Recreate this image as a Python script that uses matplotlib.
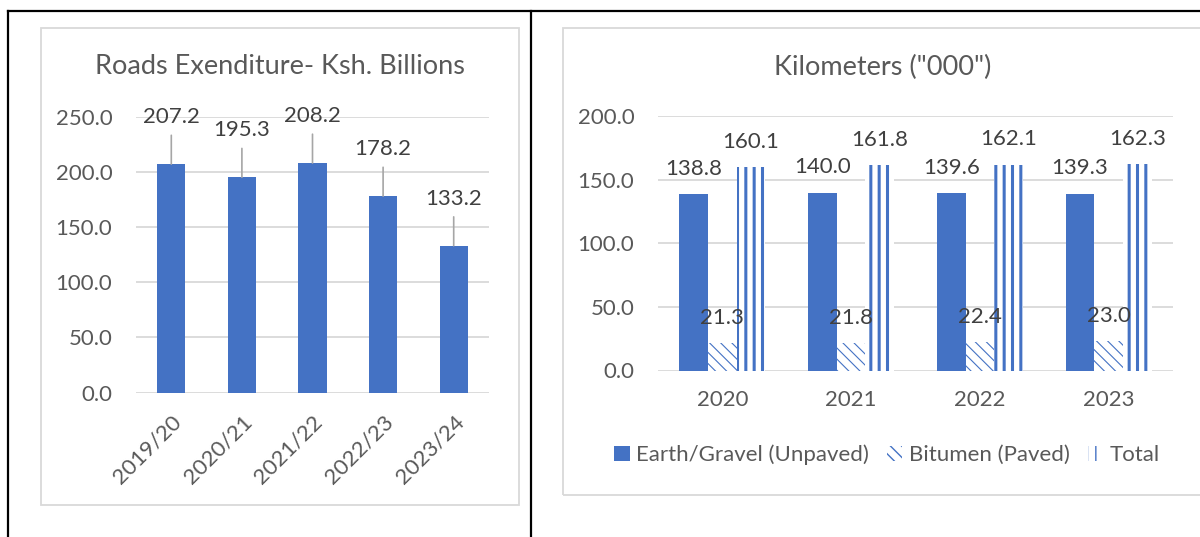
import matplotlib
matplotlib.use('Agg')
import matplotlib.pyplot as plt
from matplotlib.patches import Rectangle
from matplotlib.lines import Line2D
import numpy as np

plt.rcParams['font.family'] = ['Lato', 'DejaVu Sans']

# Road spending by financial year (Ksh. billions)
fiscal_years = ['2019/20', '2020/21', '2021/22', '2022/23', '2023/24']
spend = [207.2, 195.3, 208.2, 178.2, 133.2]

# Road network length ('000 km)
years = ['2020', '2021', '2022', '2023']
unpaved = [138.8, 140.0, 139.6, 139.3]
paved = [21.3, 21.8, 22.4, 23.0]
total = [160.1, 161.8, 162.1, 162.3]

BLUE = '#4472C4'
GREY_TXT = '#595959'
LABEL_TXT = '#404040'
GRID = '#D9D9D9'
FS = 16

W, H = 1200, 537
fig = plt.figure(figsize=(W / 100, H / 100), dpi=100)


def fx(px):
    return px / W


def fy(py):
    return 1 - py / H


# table frame around the two charts
for (x0, y0, x1, y1) in [(7.5, 11, W, 11), (7.5, 11, 7.5, H), (530.5, 11, 530.5, H)]:
    fig.add_artist(Line2D([fx(x0), fx(x1)], [fy(y0), fy(y1)],
                          transform=fig.transFigure, color='black', lw=1.6))

# chart area borders
fig.add_artist(Rectangle((fx(41), fy(505)), fx(478), 477.5 / H, transform=fig.transFigure,
                         fill=False, edgecolor=GRID, lw=1.3))
fig.add_artist(Rectangle((fx(563), fy(495)), fx(660), 467.5 / H, transform=fig.transFigure,
                         fill=False, edgecolor=GRID, lw=1.3))


def style_axes(ax):
    for s in ax.spines.values():
        s.set_visible(False)
    ax.grid(axis='y', color=GRID, lw=1.3)
    ax.set_axisbelow(True)
    ax.tick_params(length=0, labelsize=FS, labelcolor=GREY_TXT)
    ax.yaxis.set_major_formatter(plt.FuncFormatter(lambda v, p: f'{v:.1f}'))


# ---- left: expenditure ----
ax1 = fig.add_axes([fx(136), fy(392.6), fx(353), 275.6 / H])
style_axes(ax1)
x1 = np.arange(len(fiscal_years))
ax1.bar(x1, spend, width=0.4, color=BLUE)
ax1.set_xlim(-0.5, len(fiscal_years) - 0.5)
ax1.set_ylim(0, 250)
ax1.set_yticks(np.arange(0, 251, 50))
ax1.tick_params(axis='y', pad=17)
ax1.set_xticks(x1)
ax1.set_xticklabels(fiscal_years, rotation=45, ha='right', va='top', rotation_mode='anchor')
ax1.tick_params(axis='x', pad=14)
for xi, v in zip(x1, spend):
    ax1.annotate(f'{v:.1f}', xy=(xi, v), xytext=(0, 34), textcoords='offset points',
                 ha='center', va='center', fontsize=FS, color=LABEL_TXT,
                 arrowprops=dict(arrowstyle='-', color='#A6A6A6', lw=1.2,
                                 shrinkA=4, shrinkB=0))
fig.text(fx(280), fy(66), 'Roads Exenditure- Ksh. Billions', ha='center', va='center',
         fontsize=19.5, color=GREY_TXT)

# ---- right: kilometres ----
ax2 = fig.add_axes([fx(658), fy(370.5), fx(515), 254.1 / H])
style_axes(ax2)
x2 = np.arange(len(years))
bw = 0.223
b_unp = ax2.bar(x2 - bw, unpaved, width=bw, color=BLUE, label='Earth/Gravel (Unpaved)')
b_pav = ax2.bar(x2, paved, width=bw, facecolor='white', edgecolor=BLUE, lw=0,
                hatch='\\\\\\', label='Bitumen (Paved)')
b_tot = ax2.bar(x2 + bw, total, width=bw, facecolor='white', edgecolor=BLUE, lw=0,
                hatch='||', label='Total')
for p in b_tot.patches:
    p.set_hatch_linewidth(2.2)
for p in b_pav.patches:
    p.set_hatch_linewidth(0.8)
for cont in (b_unp, b_pav, b_tot):
    ax2.bar_label(cont, fmt='%.1f', padding=11, fontsize=FS, color=LABEL_TXT)
ax2.set_xlim(-0.5, len(years) - 0.5)
ax2.set_ylim(0, 200)
ax2.set_yticks(np.arange(0, 201, 50))
ax2.tick_params(axis='y', pad=17)
ax2.set_xticks(x2)
ax2.set_xticklabels(years)
ax2.tick_params(axis='x', pad=14)
fig.text(fx(883), fy(67), 'Kilometers ("000")', ha='center', va='center',
         fontsize=19.5, color=GREY_TXT)
fig.legend(handles=[b_unp, b_pav, b_tot], loc='center', bbox_to_anchor=(fx(887), fy(455)),
           ncol=3, frameon=False, fontsize=FS, labelcolor=GREY_TXT, handlelength=0.7,
           handleheight=0.7, handletextpad=0.3, columnspacing=0.8)

fig.savefig('out.png', dpi=100)
